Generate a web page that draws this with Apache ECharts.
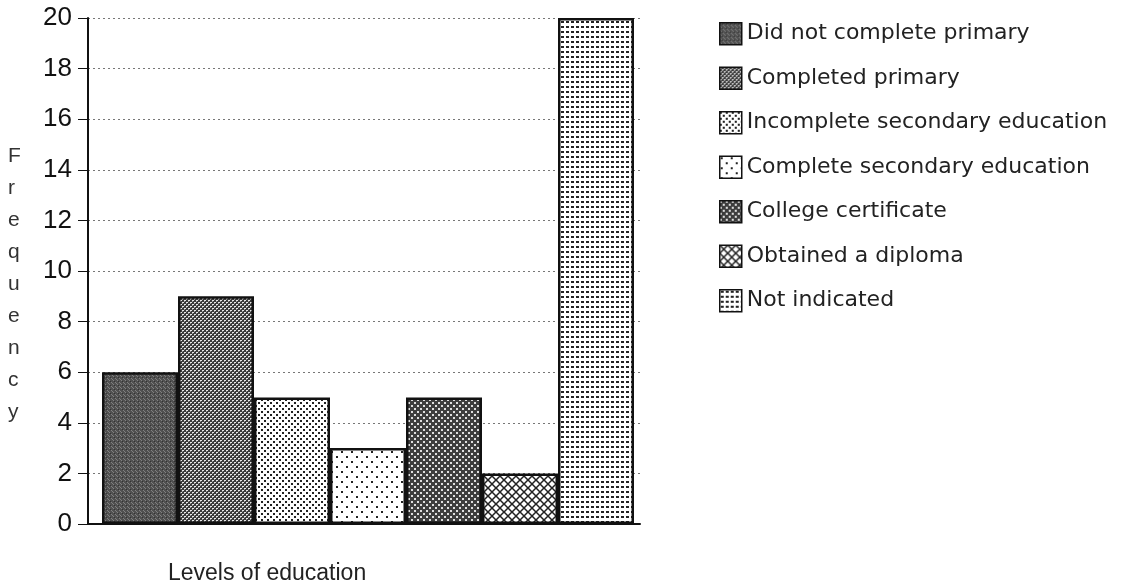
<!DOCTYPE html>
<html>
<head>
<meta charset="utf-8">
<script src="https://cdn.jsdelivr.net/npm/echarts@6/dist/echarts.min.js"></script>
<style>
  html, body { margin: 0; padding: 0; background: #fff; }
  #chart { width: 1142px; height: 585px; }
</style>
</head>
<body>
<div id="chart"></div>
<script>
// data
var categories = [
  'Did not complete primary',
  'Completed primary',
  'Incomplete secondary education',
  'Complete secondary education',
  'College certificate',
  'Obtained a diploma',
  'Not indicated'
];
var frequencies = [6, 9, 5, 3, 5, 2, 20];
var patternKinds = ['speckle', 'fineDots', 'blackDots', 'sparseDots', 'coarseDots', 'crosshatch', 'gridDots'];

// little tiles that imitate the printed fill patterns
function makePattern(kind) {
  var c = document.createElement('canvas');
  var ctx = c.getContext('2d');
  if (kind === 'speckle') {
    c.width = c.height = 4;
    ctx.fillStyle = '#505050'; ctx.fillRect(0, 0, 4, 4);
    ctx.fillStyle = '#808080';
    ctx.fillRect(1, 0, 1, 1); ctx.fillRect(3, 2, 1, 1); ctx.fillRect(0, 3, 1, 1);
    ctx.fillStyle = '#333';
    ctx.fillRect(2, 1, 1, 1);
  } else if (kind === 'fineDots') {
    c.width = c.height = 4;
    ctx.fillStyle = '#3a3a3a'; ctx.fillRect(0, 0, 4, 4);
    ctx.fillStyle = '#e8e8e8';
    ctx.fillRect(0, 0, 2, 1); ctx.fillRect(2, 2, 2, 1);
    ctx.fillStyle = '#999';
    ctx.fillRect(0, 1, 1, 1); ctx.fillRect(2, 3, 1, 1);
  } else if (kind === 'blackDots') {
    c.width = c.height = 6;
    ctx.fillStyle = '#fff'; ctx.fillRect(0, 0, 6, 6);
    ctx.fillStyle = '#222';
    ctx.fillRect(0, 0, 2, 2); ctx.fillRect(3, 3, 2, 2);
  } else if (kind === 'sparseDots') {
    c.width = c.height = 10;
    ctx.fillStyle = '#fff'; ctx.fillRect(0, 0, 10, 10);
    ctx.fillStyle = '#222';
    ctx.fillRect(1, 1, 2, 2); ctx.fillRect(6, 6, 2, 2);
  } else if (kind === 'coarseDots') {
    c.width = c.height = 6;
    ctx.fillStyle = '#3c3c3c'; ctx.fillRect(0, 0, 6, 6);
    ctx.fillStyle = '#ddd';
    ctx.fillRect(0, 0, 2, 2); ctx.fillRect(3, 3, 2, 2);
  } else if (kind === 'crosshatch') {
    c.width = c.height = 8;
    ctx.fillStyle = '#fff'; ctx.fillRect(0, 0, 8, 8);
    ctx.strokeStyle = '#222'; ctx.lineWidth = 1.5;
    ctx.beginPath();
    ctx.moveTo(-1, -1); ctx.lineTo(9, 9);
    ctx.moveTo(9, -1); ctx.lineTo(-1, 9);
    ctx.stroke();
  } else {
    c.width = c.height = 5;
    ctx.fillStyle = '#fff'; ctx.fillRect(0, 0, 5, 5);
    ctx.fillStyle = '#222';
    ctx.fillRect(1, 1, 3, 2);
  }
  return c;
}

var series = categories.map(function (name, i) {
  return {
    name: name,
    type: 'bar',
    xAxisIndex: 1,
    yAxisIndex: 1,
    barGap: '-100%',
    barCategoryGap: '0%',
    data: categories.map(function (c, j) { return j === i ? frequencies[i] : '-'; }),
    itemStyle: {
      color: { image: makePattern(patternKinds[i]), repeat: 'repeat' },
      borderColor: '#111',
      borderWidth: 2.5
    }
  };
});

var chart = echarts.init(document.getElementById('chart'));
chart.setOption({
  animation: false,
  backgroundColor: '#fff',
  grid: [
    { left: 88, right: 502, top: 18, bottom: 61 },
    { left: 102, right: 508, top: 18, bottom: 61 }
  ],
  xAxis: [
    {
      type: 'category', gridIndex: 0, data: categories,
      axisLine: { lineStyle: { color: '#111', width: 2 } },
      axisTick: { show: false }, axisLabel: { show: false }
    },
    {
      type: 'category', gridIndex: 1, data: categories, show: false
    }
  ],
  yAxis: [
    {
      type: 'value', gridIndex: 0, min: 0, max: 20, interval: 2,
      axisLine: { show: true, lineStyle: { color: '#111', width: 2 } },
      axisTick: { show: true, length: 10, lineStyle: { color: '#111', width: 1 } },
      axisLabel: { margin: 16, color: '#111', fontSize: 26, fontFamily: 'Liberation Sans' },
      splitLine: { lineStyle: { color: '#777', type: [2, 3], width: 1 } }
    },
    {
      type: 'value', gridIndex: 1, min: 0, max: 20, interval: 2, show: false,
      splitLine: { show: false }
    }
  ],
  legend: {
    orient: 'vertical',
    left: 719,
    top: 22,
    padding: 0,
    icon: 'rect',
    itemWidth: 22,
    itemHeight: 22,
    itemGap: 21,
    data: categories,
    itemStyle: { borderColor: '#111', borderWidth: 1.5 },
    textStyle: { color: '#222', fontSize: 22, lineHeight: 22, fontFamily: 'DejaVu Sans' },
    selectedMode: false
  },
  graphic: [
    {
      type: 'text', left: 8, top: 140,
      style: {
        text: 'F\nr\ne\nq\nu\ne\nn\nc\ny',
        fill: '#333', font: '21px "Liberation Sans"', lineHeight: 32, align: 'center'
      }
    },
    {
      type: 'text', left: 168, top: 562,
      style: {
        text: 'Levels of education',
        fill: '#222', font: '23px "Liberation Sans"'
      }
    }
  ],
  series: series
});
</script>
</body>
</html>
